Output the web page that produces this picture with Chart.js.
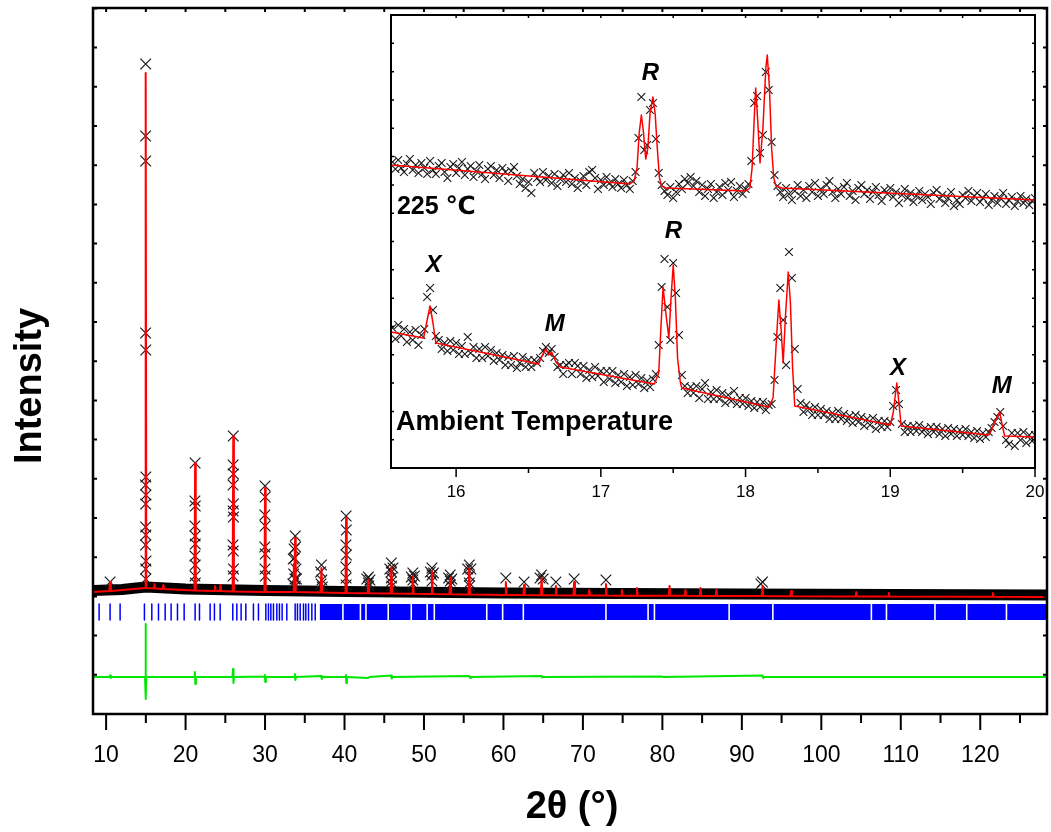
<!DOCTYPE html>
<html>
<head>
<meta charset="utf-8">
<script src="https://cdn.jsdelivr.net/npm/chart.js@4.4.1/dist/chart.umd.min.js"></script>
<style>
  html, body { margin: 0; padding: 0; background: #fff; }
  #wrap { position: relative; width: 1051px; height: 832px; }
  #wrap canvas { position: absolute; left: 0; top: 0; }
</style>
</head>
<body>
<div id="wrap">
  <canvas id="main" width="1051" height="832"></canvas>
  <canvas id="inset" width="1051" height="832"></canvas>
</div>
<script>
// ---------- main Rietveld plot (intensity in counts, 2theta in degrees) ----------
const mainTicks = [10, 20, 30, 40, 50, 60, 70, 80, 90, 100, 110, 120];

const calcCurve = [
  [8.35, 2440], [10.4, 2460], [10.5, 2640], [10.6, 2460],
  [14.9, 2520], [14.98, 12820], [15.06, 2520],
  [16.0, 2510], [16.1, 2600], [16.2, 2510], [17.1, 2500], [17.2, 2580], [17.3, 2500],
  [21.12, 2470], [21.2, 5020], [21.28, 2470],
  [23.6, 2460], [23.7, 2560], [23.8, 2460], [24.3, 2460], [24.4, 2580], [24.5, 2460],
  [25.92, 2450], [26.0, 5560], [26.08, 2450],
  [29.92, 2440], [30.0, 4520], [30.08, 2440],
  [33.55, 2440], [33.62, 3000], [33.7, 2800], [33.78, 3520], [33.86, 2440],
  [37.0, 2430], [37.1, 2920], [37.2, 2430],
  [40.12, 2420], [40.2, 3920], [40.28, 2420],
  [42.9, 2415], [43.0, 2680], [43.1, 2415],
  [45.8, 2410], [45.9, 2940], [46.0, 2410],
  [48.5, 2405], [48.6, 2760], [48.7, 2405],
  [50.9, 2400], [51.0, 2860], [51.1, 2400],
  [53.2, 2395], [53.3, 2720], [53.4, 2395],
  [55.6, 2390], [55.7, 2920], [55.8, 2390],
  [60.2, 2380], [60.3, 2640], [60.4, 2380],
  [62.5, 2378], [62.6, 2580], [62.7, 2378],
  [64.7, 2376], [64.8, 2720], [64.9, 2376],
  [66.5, 2374], [66.6, 2560], [66.7, 2374],
  [68.8, 2372], [68.9, 2640], [69.0, 2372],
  [70.7, 2370], [70.8, 2480], [70.9, 2370],
  [72.8, 2368], [72.9, 2600], [73.0, 2368],
  [74.8, 2367], [74.9, 2480], [75.0, 2367],
  [76.7, 2366], [76.8, 2520], [76.9, 2366],
  [80.8, 2364], [80.9, 2560], [81.0, 2364],
  [82.8, 2363], [82.9, 2480], [83.0, 2363],
  [84.7, 2362], [84.8, 2520], [84.9, 2362],
  [86.7, 2361], [86.8, 2480], [86.9, 2361],
  [92.5, 2358], [92.6, 2560], [92.7, 2358],
  [96.1, 2356], [96.2, 2460], [96.3, 2356],
  [104.3, 2352], [104.4, 2440], [104.5, 2352],
  [108.4, 2350], [108.5, 2420], [108.6, 2350],
  [121.5, 2345], [121.6, 2420], [121.7, 2345],
  [128.4, 2340]
];

// observed points that stand out above the dense background
const obsPeaks = [
  [10.5, 2640],
  [14.98, 13000], [14.97, 11560], [14.98, 11060], [14.97, 7620], [14.99, 7280],
  [15.0, 4740], [14.96, 4580], [15.02, 4380], [14.98, 4200], [14.97, 3740],
  [15.0, 3580], [14.96, 3380], [15.02, 3060], [14.98, 2900], [15.0, 2700],
  [21.2, 5020], [21.17, 4260], [21.22, 4160], [21.18, 3760], [21.2, 3560],
  [21.22, 3400], [21.17, 3160], [21.21, 2980], [21.18, 2760], [21.22, 2620],
  [26.0, 5560], [25.98, 4980], [26.02, 4800], [25.97, 4580], [26.01, 4200],
  [25.98, 4060], [26.02, 3940], [25.97, 3380], [26.0, 3260], [26.03, 2900], [25.98, 2760],
  [30.0, 4560], [30.02, 4340], [29.98, 3980], [30.01, 3760], [29.97, 3340],
  [30.02, 3200], [29.99, 2900], [30.03, 2760],
  [33.8, 3560], [33.85, 3340], [33.7, 3120], [33.9, 2900], [33.75, 2700],
  [33.55, 3100], [33.6, 2800], [33.65, 3300], [33.95, 2700], [33.5, 2600], [33.8, 2560],
  [37.1, 2980], [37.0, 2840], [37.15, 2680], [37.05, 2600], [37.2, 2540],
  [40.2, 3960], [40.22, 3680], [40.18, 3380], [40.23, 3180], [40.17, 2940], [40.2, 2720], [40.2, 2580],
  [42.8, 2700], [43.0, 2740], [43.2, 2680], [43.0, 2620], [43.05, 2560],
  [45.7, 2900], [45.9, 3020], [46.1, 2920], [45.9, 2840], [45.9, 2720], [45.85, 2640], [45.95, 2560],
  [48.4, 2740], [48.6, 2820], [48.8, 2760], [48.6, 2680], [48.6, 2600],
  [50.8, 2840], [51.0, 2920], [51.2, 2820], [51.0, 2780], [51.0, 2660],
  [53.1, 2720], [53.3, 2780], [53.5, 2700], [53.3, 2660], [53.3, 2580],
  [55.5, 2900], [55.7, 2980], [55.9, 2900], [55.7, 2760], [55.7, 2620], [55.75, 2560],
  [60.3, 2720], [62.6, 2640], [64.6, 2720], [64.8, 2780], [65.0, 2700],
  [66.6, 2640], [68.9, 2700], [72.9, 2680], [92.4, 2600], [92.6, 2640]
];

// centre of the dense band of observed background points
const obsBand = [
  [8.35, 2470], [12, 2490], [15, 2540], [20, 2500], [30, 2470],
  [40, 2450], [60, 2420], [90, 2400], [128.4, 2380]
];

// obs - calc
const diffCurve = [
  [8.35, 0], [10.4, 0], [10.5, 30], [10.6, -20], [10.7, 0],
  [14.9, 0], [14.97, 1060], [15.0, -440], [15.05, 20], [15.15, 0],
  [21.1, 0], [21.17, 100], [21.23, -140], [21.3, 0],
  [25.9, 0], [25.97, 160], [26.03, -120], [26.1, 0],
  [29.9, 10], [29.97, 40], [30.03, -100], [30.1, 0],
  [33.7, 0], [33.75, 60], [33.82, -60], [33.9, 0],
  [37.05, 20], [37.15, -40], [37.2, 0],
  [40.1, 0], [40.17, 40], [40.23, -120], [40.3, 0],
  [43.0, -20], [43.1, 0], [45.85, 30], [45.95, -30], [46.05, 0],
  [55.7, 20], [55.8, -20], [55.9, 0], [64.8, 20], [64.9, -10], [65.0, 0],
  [80.0, 10], [80.1, 0], [92.6, 30], [92.7, -20], [92.8, 0], [128.4, 0]
];

// reflection positions (single marks) and ranges where they merge
const braggPos = [
  9.12, 10.50, 11.76, 14.82, 15.75, 16.59, 17.43, 18.18, 18.98, 19.82,
  21.20, 21.75, 23.09, 23.63, 24.35, 25.94, 26.45, 26.99, 27.58, 28.54,
  29.17, 30.10, 30.43, 30.73, 31.06, 31.48, 31.81, 32.15, 32.74, 33.79,
  34.08, 34.42, 34.84, 35.13, 35.47, 35.89, 36.31
];
const braggBands = [
  [36.9, 39.7], [39.9, 41.9], [42.1, 42.6], [42.8, 45.4], [45.6, 48.3],
  [48.5, 50.3], [50.5, 51.2], [51.4, 57.8], [58.0, 59.8], [60.0, 62.4],
  [62.6, 72.8], [73.0, 78.1], [78.3, 78.9], [79.1, 88.3], [88.5, 93.8],
  [94.0, 106.2], [106.4, 108.1], [108.3, 114.2], [114.4, 118.2], [118.4, 123.2],
  [123.4, 128.4]
];

// ---------- inset: 15.5 - 20 deg, two temperatures (a.u.) ----------
const insetTicks = [16, 17, 18, 19, 20];
const scanStart = 15.56;
const scanStep = 0.02;

const obsHot = [
  306, 299, 308, 300, 296, 304, 309, 298, 303, 295,
  305, 300, 294, 307, 298, 294, 302, 305, 296, 290,
  301, 304, 295, 300, 306, 293, 299, 302, 291, 297,
  303, 294, 289, 299, 302, 293, 298, 290, 300, 296,
  287, 297, 301, 292, 284, 289, 280, 286, 275, 295,
  290, 286, 296, 288, 292, 285, 294, 282, 289, 293,
  286, 295, 284, 290, 280, 287, 292, 283, 296, 298,
  290, 279, 288, 283, 291, 285, 281, 289, 284, 280,
  288, 283, 279, 287, 296, 330, 371, 318, 323, 358,
  365, 329, 295, 283, 277, 273, 281, 270, 276, 284,
  279, 289, 285, 291, 282, 287, 276, 283, 272, 279,
  284, 270, 276, 281, 273, 285, 278, 286, 271, 277,
  282, 274, 279, 284, 307, 365, 372, 315, 333, 396,
  378, 326, 293, 282, 276, 271, 280, 274, 268, 277,
  283, 272, 278, 270, 282, 276, 285, 272, 279, 274,
  283, 287, 276, 270, 279, 274, 281, 285, 272, 277,
  268, 280, 283, 274, 278, 269, 276, 281, 273, 267,
  278, 274, 280, 271, 276, 265, 273, 279, 270, 275,
  266, 272, 277, 268, 274, 271, 264, 275, 278, 269,
  273, 265, 270, 276, 262, 268, 264, 273, 270, 277,
  267, 272, 275, 266, 270, 274, 263, 268, 272, 265,
  270, 275, 264, 268, 271, 262, 267, 272, 265, 269,
  263, 267, 270
];

const obsAmbient = [
  140, 129, 143, 132, 139, 126, 136, 128, 138, 123,
  133, 139, 171, 180, 158, 132, 128, 119, 125, 117,
  127, 118, 125, 114, 122, 114, 131, 115, 121, 110,
  119, 110, 121, 112, 118, 107, 115, 108, 113, 103,
  111, 103, 112, 100, 105, 111, 101, 108, 101, 108,
  105, 110, 117, 121, 115, 119, 111, 101, 103, 94,
  103, 105, 94, 105, 102, 94, 102, 90, 98, 91,
  101, 92, 97, 86, 97, 89, 97, 85, 93, 86,
  94, 82, 91, 83, 93, 84, 90, 80, 87, 81,
  89, 94, 123, 181, 209, 161, 128, 205, 175, 133,
  93, 82, 75, 81, 75, 82, 70, 79, 85, 69,
  76, 69, 78, 69, 75, 65, 73, 67, 77, 64,
  70, 64, 70, 62, 67, 60, 66, 61, 66, 58,
  63, 64, 88, 131, 180, 148, 103, 216, 190, 119,
  79, 65, 56, 63, 59, 53, 61, 53, 59, 53,
  57, 49, 55, 49, 57, 49, 54, 47, 52, 45,
  53, 46, 51, 42, 49, 43, 50, 39, 47, 41,
  47, 41, 46, 62, 78, 64, 44, 36, 42, 36,
  42, 37, 43, 36, 40, 34, 41, 36, 41, 34,
  39, 32, 40, 34, 39, 32, 38, 33, 39, 32,
  36, 30, 37, 29, 35, 31, 36, 40, 46, 51,
  56, 42, 28, 24, 35, 22, 35, 28, 36, 25,
  33, 27, 33
];

const calcHot = [
  [15.55, 303], [17.20, 284], [17.23, 287], [17.25, 300], [17.265, 335], [17.28, 353],
  [17.295, 335], [17.31, 309], [17.325, 320], [17.34, 355], [17.36, 371], [17.375, 355],
  [17.39, 320], [17.405, 290], [17.42, 282], [17.45, 280], [18.00, 277], [18.03, 280],
  [18.045, 300], [18.06, 350], [18.07, 380], [18.085, 345], [18.10, 305], [18.12, 340],
  [18.14, 400], [18.15, 413], [18.165, 380], [18.18, 320], [18.195, 290], [18.21, 282],
  [18.25, 280], [20.00, 268]
];

const calcAmbient = [
  [15.55, 136], [15.775, 130], [15.80, 148], [15.82, 162], [15.84, 145], [15.86, 125],
  [16.57, 104], [16.60, 114], [16.62, 119], [16.64, 113], [16.66, 116], [16.69, 106],
  [16.72, 101], [17.37, 84], [17.40, 95], [17.415, 140], [17.43, 181], [17.445, 160],
  [17.47, 130], [17.485, 170], [17.50, 203], [17.515, 170], [17.53, 110], [17.55, 85],
  [17.56, 80], [18.16, 61], [18.19, 70], [18.21, 120], [18.23, 168], [18.245, 140],
  [18.26, 105], [18.275, 150], [18.295, 196], [18.31, 165], [18.325, 100], [18.34, 62],
  [19.00, 43], [19.02, 55], [19.045, 85], [19.06, 65], [19.075, 42], [19.68, 33],
  [19.70, 38], [19.72, 46], [19.735, 50], [19.755, 56], [19.775, 42], [19.79, 32],
  [20.00, 31]
];

const peakNames = ['R', 'R', 'X', 'M', 'X', 'M'];
const peakNameX = [17.343, 17.502, 15.844, 16.681, 19.053, 19.77];
const peakNameY = [395, 237, 203, 144, 100, 82];

// ---------- layout / style ----------
const FONT = '"Liberation Sans", Arial, "DejaVu Sans", sans-serif';
const MAIN_YMAX = 14120;
const MAIN_YTICK = 784;
const DIFF_OFFSET = 740;
const BRAGG_TOP = 2200;
const BRAGG_BOTTOM = 1880;
const INSET_YMAX = 453;

const xy = p => ({ x: p[0], y: p[1] });

const braggLines = [];
braggPos.forEach(p => {
  braggLines.push({ x: p, y: BRAGG_TOP }, { x: p, y: BRAGG_BOTTOM }, { x: p, y: null });
});
const braggBandLines = [];
braggBands.forEach(b => {
  const mid = (BRAGG_TOP + BRAGG_BOTTOM) / 2;
  braggBandLines.push({ x: b[0], y: mid }, { x: b[1], y: mid }, { x: b[1], y: null });
});

function drawBox(chart, o) {
  const { ctx, chartArea: a, scales: { x, y } } = chart;
  ctx.save();
  ctx.strokeStyle = '#000';
  ctx.lineWidth = o.frame;
  ctx.strokeRect(a.left, a.top, a.right - a.left, a.bottom - a.top);
  ctx.lineWidth = o.tick;
  ctx.beginPath();
  for (let v = o.xFirst; v <= x.max + 1e-9; v += o.xStep) {
    const px = x.getPixelForValue(v);
    const major = Math.abs(v / o.xMajor - Math.round(v / o.xMajor)) < 1e-6;
    ctx.moveTo(px, a.bottom + 1);
    ctx.lineTo(px, a.bottom + (major ? o.majorLen : o.minorLen));
    ctx.moveTo(px, a.top);
    ctx.lineTo(px, a.top + o.inLen);
  }
  for (let v = o.yStep; v < y.max; v += o.yStep) {
    const py = y.getPixelForValue(v);
    ctx.moveTo(a.left, py);
    ctx.lineTo(a.left + o.inLen, py);
    ctx.moveTo(a.right, py);
    ctx.lineTo(a.right - o.inLen, py);
  }
  ctx.stroke();
  ctx.restore();
}

const mainBox = {
  id: 'mainBox',
  afterDraw(chart) {
    drawBox(chart, { frame: 2.5, tick: 2, xFirst: 10, xStep: 5, xMajor: 10,
      majorLen: 16, minorLen: 9, inLen: 4, yStep: MAIN_YTICK });
    const ctx = chart.ctx;
    ctx.save();
    ctx.fillStyle = '#000';
    ctx.font = 'bold 38px ' + FONT;
    ctx.textAlign = 'center';
    ctx.textBaseline = 'middle';
    ctx.fillText('2\u03B8 (\u00B0)', 572, 808);
    ctx.translate(31, 386);
    ctx.rotate(-Math.PI / 2);
    ctx.fillText('Intensity', 0, 0);
    ctx.restore();
  }
};

const insetBox = {
  id: 'insetBox',
  afterDraw(chart) {
    drawBox(chart, { frame: 2, tick: 1.5, xFirst: 16, xStep: 0.5, xMajor: 1,
      majorLen: 9, minorLen: 5, inLen: 3, yStep: INSET_YMAX / 16 });
    const { ctx, scales: { x, y } } = chart;
    ctx.save();
    ctx.fillStyle = '#000';
    ctx.textBaseline = 'middle';
    ctx.textAlign = 'center';
    ctx.font = 'italic bold 24px ' + FONT;
    peakNames.forEach((t, i) => {
      ctx.fillText(t, x.getPixelForValue(peakNameX[i]), y.getPixelForValue(peakNameY[i]));
    });
    ctx.textAlign = 'left';
    ctx.font = 'bold 25px ' + FONT;
    ctx.fillText('225 \u2103', x.getPixelForValue(15.591), y.getPixelForValue(261));
    ctx.font = 'bold 27px ' + FONT;
    ctx.fillText('Ambient Temperature', x.getPixelForValue(15.584), y.getPixelForValue(45));
    ctx.restore();
  }
};

const noSidePadding = s => { s.paddingLeft = 0; s.paddingRight = 0; };

const lineDefaults = { showLine: true, pointRadius: 0, borderJoinStyle: 'round', fill: false };

new Chart(document.getElementById('main'), {
  type: 'scatter',
  data: {
    datasets: [
      { ...lineDefaults, data: calcCurve.map(xy), borderColor: '#ff0000', borderWidth: 2, order: 0 },
      { data: obsPeaks.map(xy), pointStyle: 'crossRot', pointRadius: 7.5, borderColor: '#1a1a1a',
        backgroundColor: 'transparent', borderWidth: 1.2, order: 1 },
      { ...lineDefaults, data: obsBand.map(xy), borderColor: '#000', borderWidth: 11, order: 2 },
      { ...lineDefaults, data: braggLines, borderColor: '#0000ff', borderWidth: 1.5, spanGaps: false, order: 3 },
      { ...lineDefaults, data: braggBandLines, borderColor: '#0000ff', borderWidth: 16,
        borderCapStyle: 'butt', spanGaps: false, order: 3 },
      { ...lineDefaults, data: diffCurve.map(p => ({ x: p[0], y: p[1] + DIFF_OFFSET })),
        borderColor: '#00e600', borderWidth: 2, order: 3 }
    ]
  },
  options: {
    responsive: false,
    animation: false,
    events: [],
    layout: { autoPadding: false, padding: { left: 93, top: 8, right: 4, bottom: 0 } },
    plugins: { legend: { display: false }, tooltip: { enabled: false } },
    scales: {
      x: {
        type: 'linear', min: 8.35, max: 128.4,
        afterBuildTicks: s => { s.ticks = mainTicks.map(v => ({ value: v })); },
        afterFit: s => { s.height = 832 - 714; noSidePadding(s); },
        grid: { display: false },
        border: { display: false },
        ticks: { color: '#000', font: { family: FONT, size: 23 }, padding: 20, maxRotation: 0, autoSkip: false }
      },
      y: { display: false, min: 0, max: MAIN_YMAX }
    }
  },
  plugins: [mainBox]
});

new Chart(document.getElementById('inset'), {
  type: 'scatter',
  data: {
    datasets: [
      { ...lineDefaults, data: calcHot.map(xy), borderColor: '#ff0000', borderWidth: 1.5, order: 0 },
      { ...lineDefaults, data: calcAmbient.map(xy), borderColor: '#ff0000', borderWidth: 1.5, order: 0 },
      { data: obsHot.map((h, i) => ({ x: scanStart + i * scanStep, y: h })), pointStyle: 'crossRot',
        pointRadius: 5.5, borderColor: '#1a1a1a', backgroundColor: 'transparent', borderWidth: 1.1, order: 1 },
      { data: obsAmbient.map((h, i) => ({ x: scanStart + i * scanStep, y: h })), pointStyle: 'crossRot',
        pointRadius: 5.5, borderColor: '#1a1a1a', backgroundColor: 'transparent', borderWidth: 1.1, order: 1 }
    ]
  },
  options: {
    responsive: false,
    animation: false,
    events: [],
    layout: { autoPadding: false, padding: { left: 391, top: 15, right: 16, bottom: 0 } },
    plugins: { legend: { display: false }, tooltip: { enabled: false } },
    scales: {
      x: {
        type: 'linear', min: 15.55, max: 20,
        afterBuildTicks: s => { s.ticks = insetTicks.map(v => ({ value: v })); },
        afterFit: s => { s.height = 832 - 468; noSidePadding(s); },
        grid: { display: false },
        border: { display: false },
        ticks: { color: '#000', font: { family: FONT, size: 17 }, padding: 6, maxRotation: 0, autoSkip: false }
      },
      y: { display: false, min: 0, max: INSET_YMAX }
    }
  },
  plugins: [insetBox]
});
</script>
</body>
</html>
